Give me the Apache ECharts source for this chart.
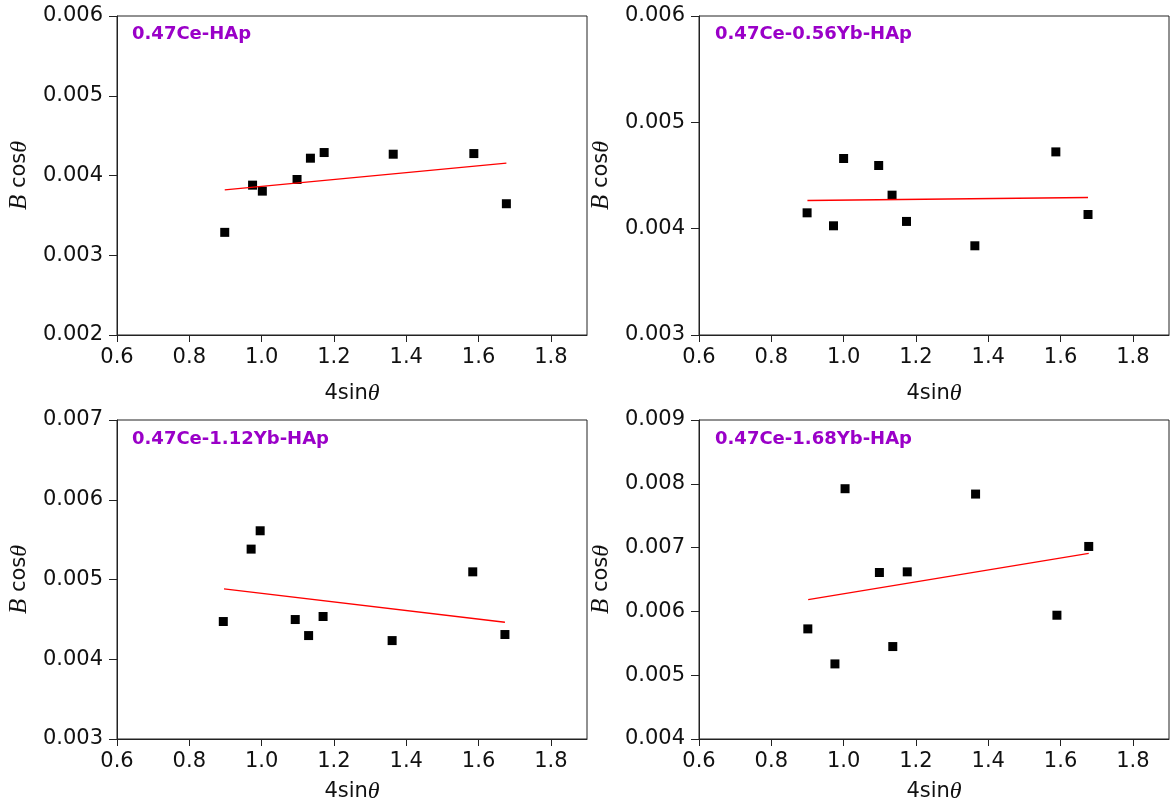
<!DOCTYPE html>
<html>
<head>
<meta charset="utf-8">
<script src="https://cdn.jsdelivr.net/npm/echarts@6/dist/echarts.min.js"></script>
<style>
html,body{margin:0;padding:0;background:#fff;}
#chart{width:1171px;height:805px;}
</style>
</head>
<body>
<div id="chart"></div>
<script>
// ---- Data ----
const panelTitles = ['0.47Ce-HAp', '0.47Ce-0.56Yb-HAp', '0.47Ce-1.12Yb-HAp', '0.47Ce-1.68Yb-HAp'];

const x1 = [0.898, 0.975, 1.002, 1.098, 1.135, 1.173, 1.364, 1.587, 1.677];
const y1 = [0.003287, 0.003879, 0.003804, 0.003950, 0.004217, 0.004288, 0.004267, 0.004275, 0.003646];
const fitX1 = [0.898, 1.677];
const fitY1 = [0.003821, 0.004154];

const x2 = [0.899, 0.972, 1.000, 1.097, 1.134, 1.174, 1.363, 1.587, 1.676];
const y2 = [0.004149, 0.004027, 0.004660, 0.004594, 0.004315, 0.004068, 0.003839, 0.004722, 0.004133];
const fitX2 = [0.900, 1.676];
const fitY2 = [0.004265, 0.004293];

const x3 = [0.894, 0.971, 0.996, 1.093, 1.130, 1.170, 1.361, 1.584, 1.673];
const y3 = [0.004473, 0.005381, 0.005611, 0.004498, 0.004297, 0.004536, 0.004234, 0.005096, 0.004310];
const fitX3 = [0.896, 1.673];
const fitY3 = [0.004883, 0.004464];

const x4 = [0.901, 0.976, 1.004, 1.099, 1.136, 1.176, 1.365, 1.590, 1.678];
const y4 = [0.005726, 0.005177, 0.007923, 0.006610, 0.005449, 0.006620, 0.007839, 0.005940, 0.007018];
const fitX4 = [0.902, 1.678];
const fitY4 = [0.006186, 0.006908];

// axis ranges / ticks
const xMin = 0.6, xMax = 1.9, xStep = 0.2;
const yMins = [0.002, 0.003, 0.003, 0.004];
const yMaxs = [0.006, 0.006, 0.007, 0.009];
const yStep = 0.001;

// ---- Build chart ----
const FONT = 'DejaVu Sans';
const AX = '#222';
const grids = [
  {left: 117, top: 16, width: 470, height: 319},
  {left: 699, top: 16, width: 470, height: 319},
  {left: 117, top: 420, width: 470, height: 319},
  {left: 699, top: 420, width: 470, height: 319}
];
const titlePos = [
  {left: 132, top: 25},
  {left: 715, top: 25},
  {left: 132, top: 430},
  {left: 715, top: 430}
];
const xs = [x1, x2, x3, x4], ys = [y1, y2, y3, y4];
const fxs = [fitX1, fitX2, fitX3, fitX4], fys = [fitY1, fitY2, fitY3, fitY4];

const option = {
  animation: false,
  backgroundColor: '#fff',
  title: panelTitles.map((t, i) => ({
    text: t, left: titlePos[i].left, top: titlePos[i].top, padding: 0,
    textStyle: {color: '#9a00c8', fontWeight: 'bold', fontSize: 18, fontFamily: FONT}
  })),
  grid: grids.map(g => Object.assign({show: true, borderColor: AX, borderWidth: 1, backgroundColor: 'transparent', containLabel: false}, g)),
  xAxis: grids.map((g, i) => ({
    type: 'value', gridIndex: i, min: xMin, max: xMax, interval: xStep,
    name: '4sin{t|θ}', nameLocation: 'middle', nameGap: i < 2 ? 47 : 41,
    nameTextStyle: {fontFamily: FONT, fontSize: 21, color: '#111',
      rich: {t: {fontFamily: 'Liberation Serif', fontStyle: 'italic', fontSize: 24, color: '#111'}}},
    axisLine: {show: true, onZero: false, lineStyle: {color: AX, width: 1}},
    axisTick: {show: true, inside: false, length: 7, lineStyle: {color: AX}},
    axisLabel: {show: true, margin: 12, fontFamily: FONT, fontSize: 21, color: '#111',
      showMaxLabel: false, formatter: v => v.toFixed(1)},
    splitLine: {show: false}
  })),
  yAxis: grids.map((g, i) => ({
    type: 'value', gridIndex: i, min: yMins[i], max: yMaxs[i], interval: yStep,
    name: '{b|B} cos{t|θ}', nameLocation: 'middle', nameRotate: 90, nameGap: 85,
    nameTextStyle: {fontFamily: FONT, fontSize: 21, color: '#111',
      rich: {b: {fontFamily: 'Liberation Serif', fontStyle: 'italic', fontSize: 25, color: '#111'},
             t: {fontFamily: 'Liberation Serif', fontStyle: 'italic', fontSize: 24, color: '#111'}}},
    axisLine: {show: true, onZero: false, lineStyle: {color: AX, width: 1}},
    axisTick: {show: true, inside: false, length: 8, lineStyle: {color: AX}},
    axisLabel: {show: true, margin: 14, fontFamily: FONT, fontSize: 21, color: '#111',
      formatter: v => v.toFixed(3)},
    splitLine: {show: false}
  })),
  series: []
};

for (let i = 0; i < 4; i++) {
  option.series.push({
    type: 'scatter', xAxisIndex: i, yAxisIndex: i, symbol: 'rect', symbolSize: 9,
    itemStyle: {color: '#000', opacity: 1},
    data: xs[i].map((x, k) => [x, ys[i][k]])
  });
  option.series.push({
    type: 'line', xAxisIndex: i, yAxisIndex: i, symbol: 'none',
    lineStyle: {color: '#ff0000', width: 1.3},
    data: fxs[i].map((x, k) => [x, fys[i][k]])
  });
}

const chart = echarts.init(document.getElementById('chart'), null, {renderer: 'canvas'});
chart.setOption(option);
</script>
</body>
</html>
